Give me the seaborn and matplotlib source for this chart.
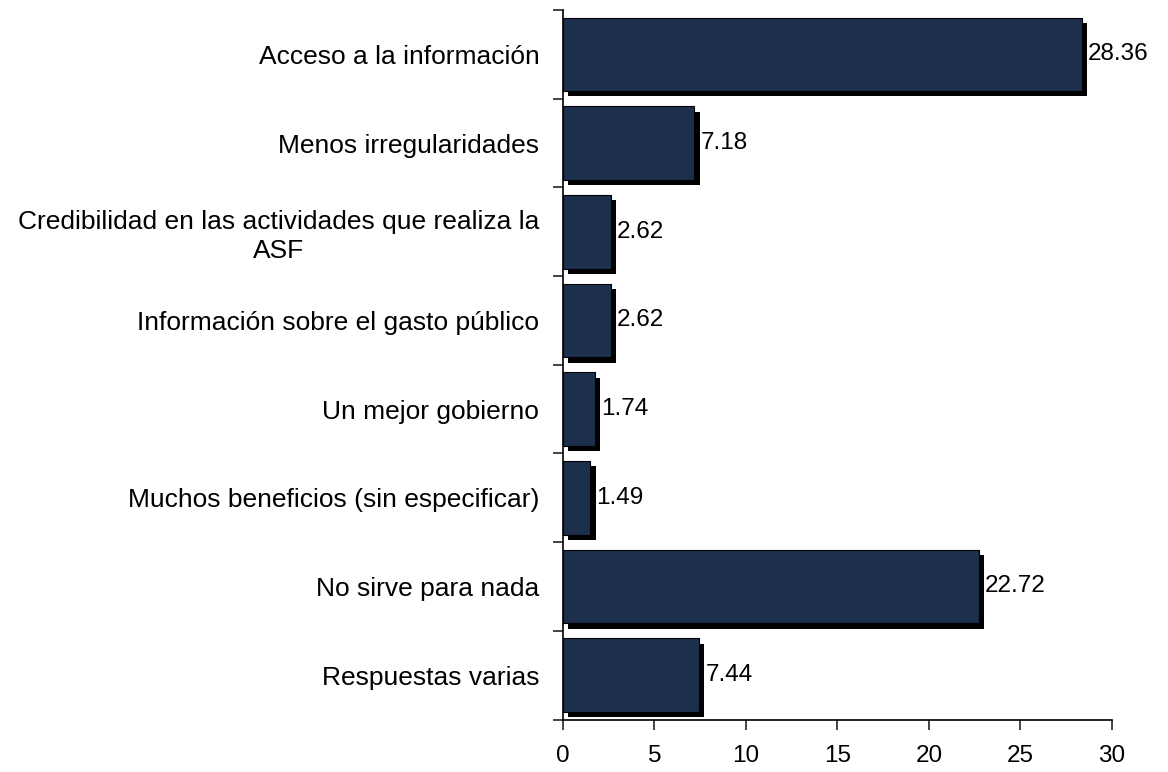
import matplotlib
matplotlib.use("Agg")
import matplotlib.pyplot as plt
import matplotlib.patheffects as pe
import seaborn as sns
import pandas as pd
import numpy as np

# datos
categorias = [
    "Acceso a la información",
    "Menos irregularidades",
    "Credibilidad en las actividades que realiza la\nASF",
    "Información sobre el gasto público",
    "Un mejor gobierno",
    "Muchos beneficios (sin especificar)",
    "No sirve para nada",
    "Respuestas varias",
]
valores = [28.36, 7.18, 2.62, 2.62, 1.74, 1.49, 22.72, 7.44]
etiquetas = ["28.36", "7.18", "2.62", "2.62", "1.74", "1.49", "22.72", "7.44"]

df = pd.DataFrame({"categoria": categorias, "valor": valores})

sns.set_style("white")
plt.rcParams["font.family"] = ["Liberation Sans", "DejaVu Sans"]

fig = plt.figure(figsize=(11.68, 7.72), dpi=100)
ax = fig.add_axes([0.4820, 0.0680, 0.4700, 0.9190])

sns.barplot(data=df, y="categoria", x="valor", orient="h", color="#1c2f4c",
            saturation=1, width=0.83, edgecolor="black", linewidth=0.8, ax=ax)

sombra = [pe.SimplePatchShadow(offset=(3.8, -3.8), shadow_rgbFace="black", alpha=1),
          pe.Normal()]
for p in ax.patches:
    p.set_path_effects(sombra)

for i, (v, t) in enumerate(zip(valores, etiquetas)):
    ax.annotate(t, (v, i), xytext=(4.5, 0), textcoords="offset points",
                ha="left", va="center", fontsize=17.5, color="black")

ax.set_xlim(0, 30)
ax.set_ylim(7.5, -0.5)
ax.set_xticks(np.arange(0, 31, 5))
ax.set_yticks(np.arange(-0.5, 8, 1), minor=True)
ax.tick_params(axis="y", which="major", length=0, labelsize=19, pad=17, labelcolor="black")
ax.tick_params(axis="y", which="minor", length=7, width=1.2, direction="out", left=True)
ax.tick_params(axis="x", length=7, width=1.2, direction="out", labelsize=17.5, pad=11,
               bottom=True, labelcolor="black")
for lab in ax.get_yticklabels():
    lab.set_multialignment("center")
    lab.set_linespacing(1.25)

ax.set_xlabel("")
ax.set_ylabel("")
sns.despine(ax=ax)
for s in ["left", "bottom"]:
    ax.spines[s].set_linewidth(1.2)
    ax.spines[s].set_color("black")

fig.savefig("out.png", dpi=100)
